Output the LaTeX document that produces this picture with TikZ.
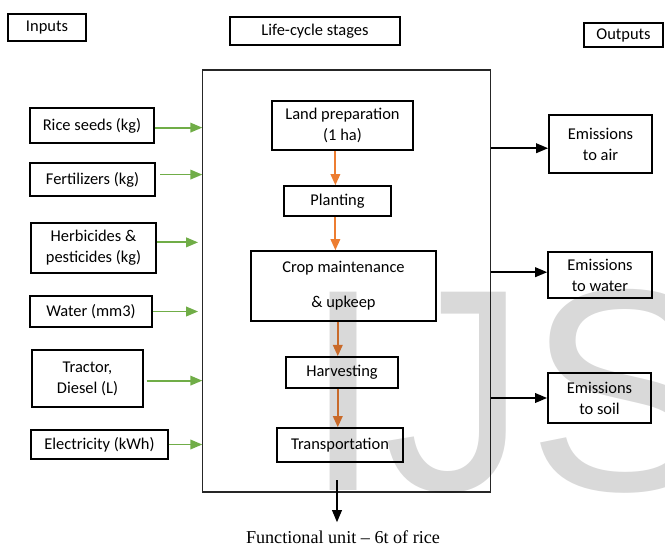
\documentclass[tikz,border=0pt]{standalone}
\usepackage{fontspec}
\setmainfont{Carlito}
\newfontfamily\serifunit{Liberation Serif}
\newfontfamily\wmfont{Liberation Sans}
\usetikzlibrary{positioning, calc, arrows.meta}
\definecolor{LGreen}{RGB}{112,173,71}
\definecolor{LOrange}{RGB}{237,125,49}

\begin{document}
\begin{tikzpicture}[
      x=0.025cm, y=-0.025cm,
      every node/.style={font=\fontsize{11.7}{15}\selectfont, inner sep=0pt},
      plainbox/.style={draw=black, line width=1.1pt, align=center},
      sysbox/.style={draw=black!85, line width=0.8pt},
      garr/.style={-{Triangle[length=0.3cm, width=0.24cm]}, line width=1.3pt, LGreen},
      oarr/.style={-{Triangle[length=0.28cm, width=0.24cm]}, line width=1.3pt, LOrange},
      karr/.style={-{Triangle[length=0.3cm, width=0.24cm]}, line width=1.2pt, black},
    ]
      \useasboundingbox (0,0) rectangle (665,546);
      % Headings
      \node[plainbox, minimum width=1.95cm, minimum height=0.68cm] (inputs) at (47,27.5) {Inputs};
      \node[plainbox, minimum width=4.25cm, minimum height=0.7cm] (stages) at (315,31) {Life-cycle stages};
      \node[plainbox, minimum width=1.98cm, minimum height=0.6cm] (outputs) at (623.5,35) {Outputs};
      % System boundary
      \node[sysbox, minimum width=7.18cm, minimum height=10.55cm] (sys) at (346.5,281) {};
      % Life-cycle stages
      \node[plainbox, minimum width=3.53cm, minimum height=1.23cm] (land) at (342.5,125.5) {Land preparation\\(1 ha)};
      \node[plainbox, minimum width=2.68cm, minimum height=0.75cm] (plant) at (337.5,201) {Planting};
      \node[plainbox, minimum width=4.63cm, minimum height=1.75cm] (crop) at (343.5,286) {Crop maintenance\\[9.8pt]\& upkeep};
      \node[plainbox, minimum width=2.8cm, minimum height=0.78cm] (harv) at (342,372.5) {Harvesting};
      \node[plainbox, minimum width=3.15cm, minimum height=0.85cm] (trans) at (340,445) {Transportation};
      % Inputs
      \node[plainbox, minimum width=3.1cm, minimum height=0.88cm] (seeds) at (92,125.5) {Rice seeds (kg)};
      \node[plainbox, minimum width=3.13cm, minimum height=0.83cm] (fert) at (92.5,179.5) {Fertilizers (kg)};
      \node[plainbox, minimum width=3.13cm, minimum height=1.25cm] (herb) at (93.5,248) {Herbicides \&\\pesticides (kg)};
      \node[plainbox, minimum width=3.05cm, minimum height=0.78cm] (water) at (91,311.5) {Water (mm3)};
      \node[plainbox, minimum width=2.78cm, minimum height=1.43cm] (tractor) at (87.5,378.5) {Tractor,\\Diesel (L)};
      \node[plainbox, minimum width=3.43cm, minimum height=0.73cm] (elec) at (99.5,444.5) {Electricity (kWh)};
      % Outputs
      \node[plainbox, minimum width=2.58cm, minimum height=1.45cm] (air) at (600.5,144) {Emissions\\to air};
      \node[plainbox, minimum width=2.6cm, minimum height=1.15cm] (wout) at (600,275) {Emissions\\to water};
      \node[plainbox, minimum width=2.58cm, minimum height=1.25cm] (soil) at (599.5,398) {Emissions\\to soil};
      % Functional unit
      \node[font=\serifunit\fontsize{12.9}{15}\selectfont] (fu) at (343,537) {Functional unit – 6t of rice};
      \coordinate (fuin) at (337,480);
      % Input arrows
      \draw[garr] ([yshift=-1.5]seeds.east) -- ([yshift=-1.5]seeds.east -| sys.west);
      \draw[garr] ([xshift=3,yshift=3.5]fert.east) -- ([yshift=3.5]fert.east -| sys.west);
      \draw[garr] ([yshift=4]herb.east) -- ([xshift=-3,yshift=4]herb.east -| sys.west);
      \draw[garr] (water.east) -- ([xshift=-3]water.east -| sys.west);
      \draw[garr] ([xshift=2,yshift=-1.5]tractor.east) -- ([yshift=-1.5]tractor.east -| sys.west);
      \draw[garr] (elec.east) -- (elec.east -| sys.west);
      % Stage arrows
      \draw[oarr] ([xshift=-1.5]plant.north |- land.south) -- ([xshift=-1.5]plant.north);
      \draw[oarr] ([xshift=-1.5]plant.south) -- ([xshift=-1.5]plant.south |- crop.north);
      \draw[oarr] ([xshift=-3]harv.north |- crop.south) -- ([xshift=-3]harv.north);
      \draw[oarr] ([xshift=-3]harv.south) -- ([xshift=-3]harv.south |- trans.north);
      % Output arrows
      \draw[karr] ([yshift=-3]air.west -| sys.east) -- ([yshift=-3]air.west);
      \draw[karr] ([yshift=2]wout.west -| sys.east) -- ([yshift=2]wout.west);
      \draw[karr] (soil.west -| sys.east) -- (soil.west);
      \draw[karr, shorten >=0.2cm] (fuin) -- (fuin |- fu.north);
      % Watermark
      \node[anchor=base west, font=\wmfont\fontsize{205}{205}\selectfont, text opacity=0.15] (wm) at (303,490) {IJS};
    \end{tikzpicture}
\end{document}
